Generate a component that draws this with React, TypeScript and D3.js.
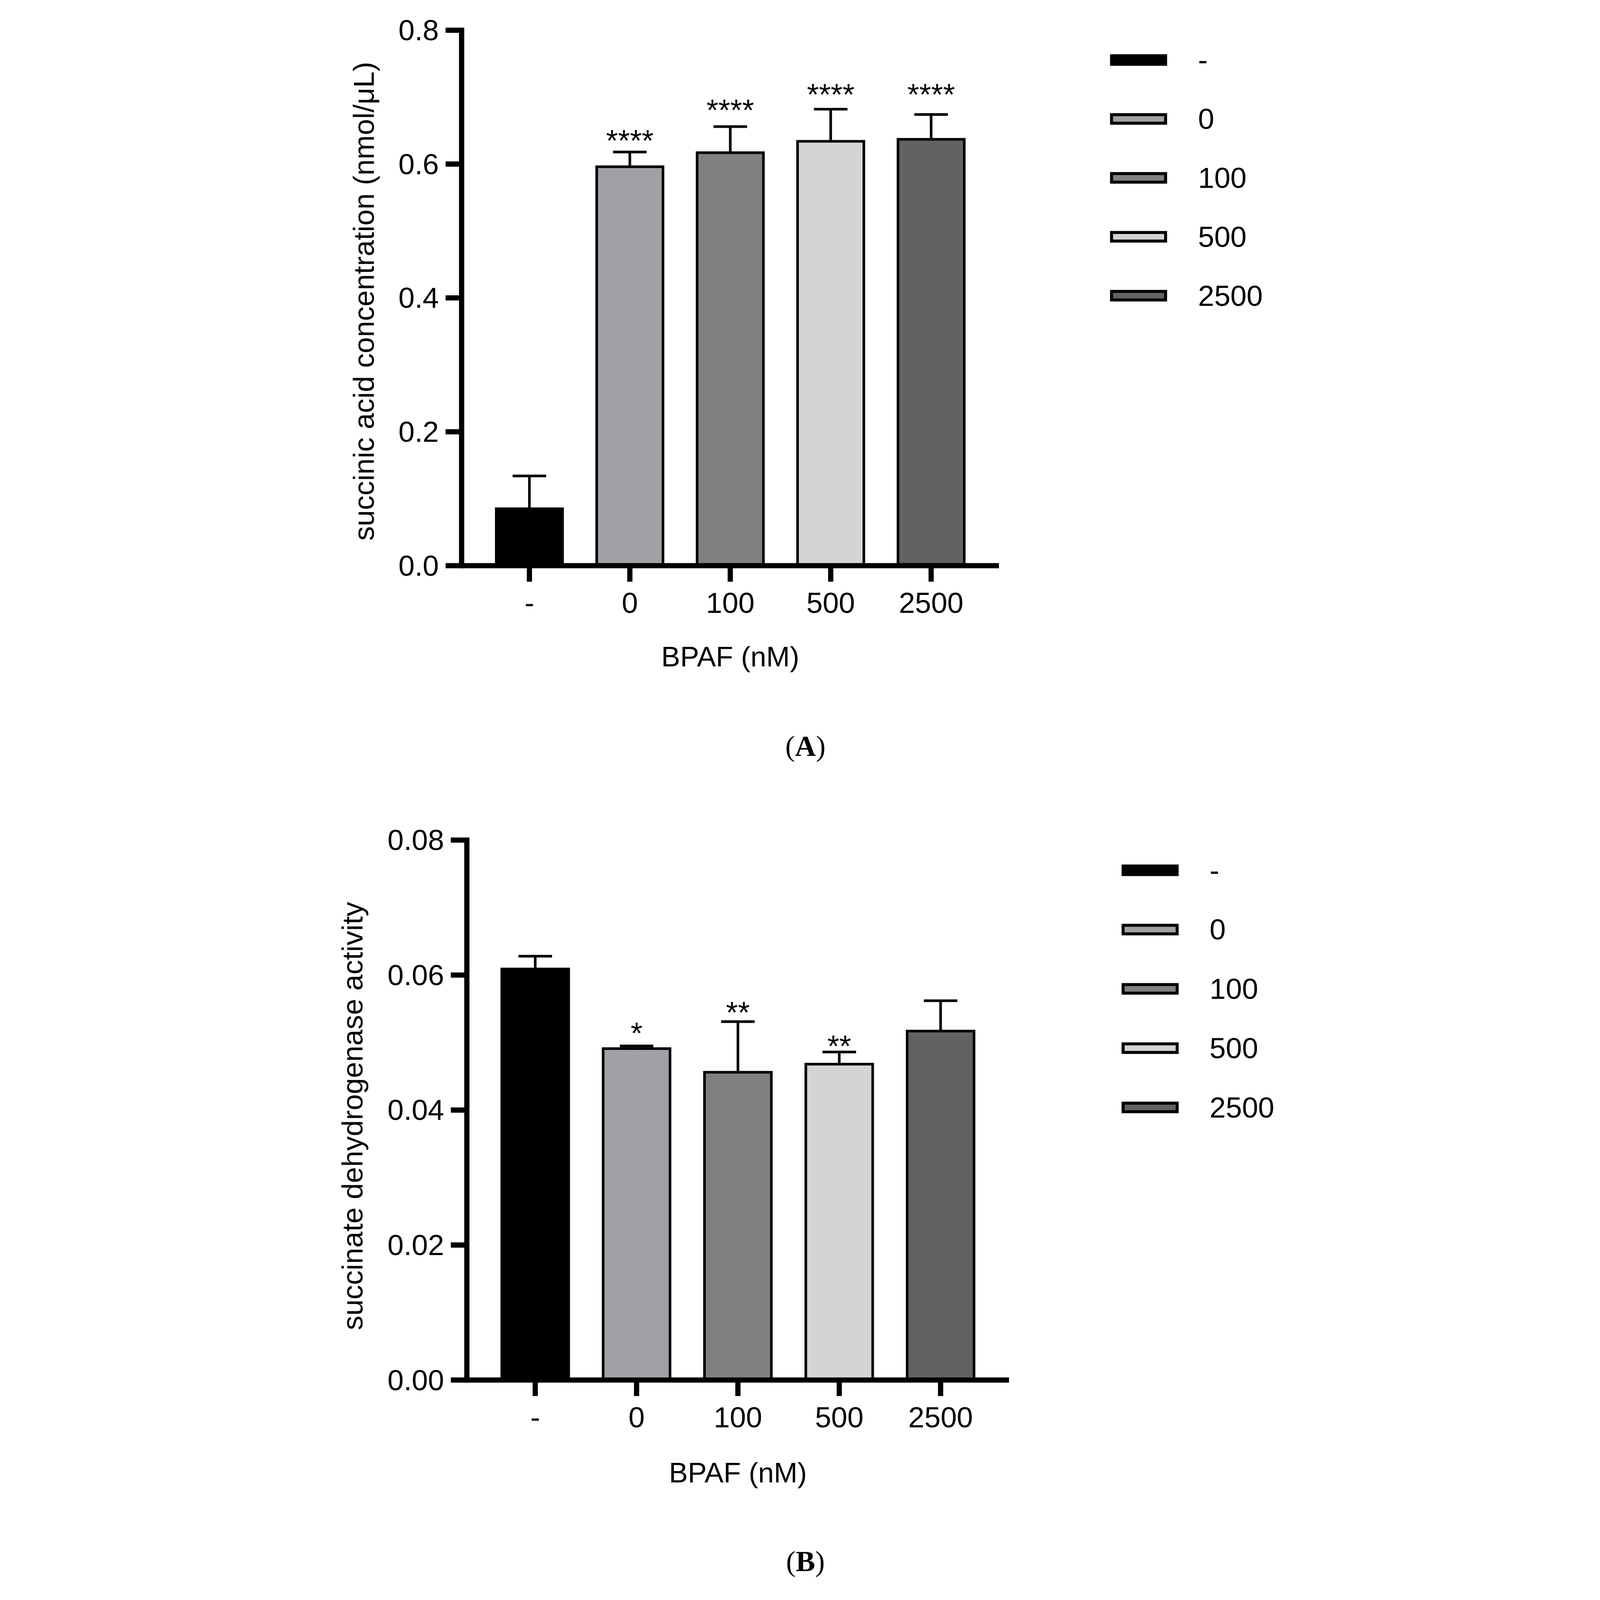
import React, {useEffect, useRef} from "react";
import * as d3 from "d3";

// groups (BPAF dose, nM)
const groups = ["-", "0", "100", "500", "2500"];
const groupColors = ["#000000", "#a1a0a5", "#808080", "#d4d4d4", "#626262"];

// panel A: succinic acid concentration
const meansA = [0.085, 0.596, 0.617, 0.634, 0.637];
const sdA = [0.049, 0.022, 0.039, 0.048, 0.037];
const starsA = ["", "****", "****", "****", "****"];
const starLevelA = [0, 0.619, 0.665, 0.688, 0.688];
const ticksA = [0, 0.2, 0.4, 0.6, 0.8];

// panel B: succinate dehydrogenase activity
const meansB = [0.0609, 0.0491, 0.0456, 0.0468, 0.0517];
const sdB = [0.0019, 0.0004, 0.0075, 0.0018, 0.0045];
const starsB = ["", "*", "**", "**", ""];
const starLevelB = [0, 0.0498, 0.0529, 0.0479, 0];
const ticksB = [0, 0.02, 0.04, 0.06, 0.08];

const W = 4291;
const H = 4253;
const SANS = "Liberation Sans, Arial, sans-serif";
const SERIF = "Liberation Serif, Times New Roman, serif";
const FS = 78;

interface PanelCfg {
	means: number[];
	sd: number[];
	stars: string[];
	starLevel: number[];
	ticks: number[];
	fmt: string;
	yLabel: string;
	tag: string;
	axisX: number;
	xEnd: number;
	y0: number;
	yTop: number;
	yLabelX: number;
	yLabelY: number;
	titleDy: number;
	legendX: number;
	legendY: number;
	legendStep: number;
	tagY: number;
}

function drawPanel(svg: d3.Selection<SVGSVGElement, unknown, null, undefined>, c: PanelCfg) {
	const g = svg.append("g");

	const x = d3
		.scaleBand<string>()
		.domain(groups)
		.range([c.axisX, c.xEnd])
		.paddingInner(0.34)
		.paddingOuter(0.345);

	const y = d3
		.scaleLinear()
		.domain([0, c.ticks[c.ticks.length - 1]])
		.range([c.y0, c.yTop]);

	const bw = x.bandwidth();
	const cx = (d: string) => (x(d) || 0) + bw / 2;

	// error bars (upper only)
	const err = g.append("g").attr("stroke", "#000").attr("stroke-width", 7);
	groups.forEach((d, i) => {
		const top = y(c.means[i] + c.sd[i]);
		err.append("line").attr("x1", cx(d)).attr("x2", cx(d)).attr("y1", y(c.means[i])).attr("y2", top);
		err
			.append("line")
			.attr("x1", cx(d) - 45)
			.attr("x2", cx(d) + 45)
			.attr("y1", top)
			.attr("y2", top);
	});

	// bars
	g.selectAll(".bar")
		.data(groups)
		.enter()
		.append("rect")
		.attr("x", (d) => x(d) || 0)
		.attr("y", (_, i) => y(c.means[i]))
		.attr("width", bw)
		.attr("height", (_, i) => c.y0 - y(c.means[i]))
		.attr("fill", (_, i) => groupColors[i])
		.attr("stroke", "#000")
		.attr("stroke-width", 7);

	// significance stars
	groups.forEach((d, i) => {
		if (!c.stars[i]) return;
		g.append("text")
			.attr("x", cx(d))
			.attr("y", y(c.starLevel[i]))
			.attr("text-anchor", "middle")
			.style("font-family", SANS)
			.style("font-size", "82px")
			.text(c.stars[i]);
	});

	// axes
	const axis = g.append("g").attr("stroke", "#000").attr("stroke-width", 14);
	axis.append("line").attr("x1", c.axisX).attr("x2", c.axisX).attr("y1", c.yTop - 7).attr("y2", c.y0 + 7);
	axis.append("line").attr("x1", c.axisX).attr("x2", c.xEnd).attr("y1", c.y0).attr("y2", c.y0);
	c.ticks.forEach((t) => {
		axis.append("line").attr("x1", c.axisX - 43).attr("x2", c.axisX).attr("y1", y(t)).attr("y2", y(t));
	});
	groups.forEach((d) => {
		axis.append("line").attr("x1", cx(d)).attr("x2", cx(d)).attr("y1", c.y0).attr("y2", c.y0 + 43);
	});

	const txt = g.append("g").style("font-family", SANS).style("font-size", `${FS}px`).attr("fill", "#000");
	const fmt = d3.format(c.fmt);
	c.ticks.forEach((t) => {
		txt.append("text").attr("x", c.axisX - 61).attr("y", y(t) + 27).attr("text-anchor", "end").text(fmt(t));
	});
	groups.forEach((d) => {
		txt.append("text").attr("x", cx(d)).attr("y", c.y0 + 127).attr("text-anchor", "middle").text(d);
	});

	txt.append("text")
		.attr("x", (c.axisX + c.xEnd) / 2)
		.attr("y", c.y0 + c.titleDy)
		.attr("text-anchor", "middle")
		.style("font-size", "76px")
		.text("BPAF (nM)");

	txt.append("text")
		.attr("transform", `translate(${c.yLabelX}, ${c.yLabelY}) rotate(-90)`)
		.attr("text-anchor", "middle")
		.text(c.yLabel);

	// legend
	groups.forEach((d, i) => {
		const ly = c.legendY + i * c.legendStep;
		g.append("rect")
			.attr("x", c.legendX + 4)
			.attr("y", ly - 11.5)
			.attr("width", 145)
			.attr("height", 23)
			.attr("fill", groupColors[i])
			.attr("stroke", "#000")
			.attr("stroke-width", 8);
		txt.append("text").attr("x", c.legendX + 236).attr("y", ly + 27).text(d);
	});

	// panel tag
	const tag = g
		.append("text")
		.attr("x", 2160)
		.attr("y", c.tagY)
		.attr("text-anchor", "middle")
		.style("font-family", SERIF)
		.style("font-size", `${FS}px`);
	tag.append("tspan").text("(");
	tag.append("tspan").style("font-weight", "bold").text(c.tag);
	tag.append("tspan").text(")");
}

const App: React.FC = () => {
	const svgRef = useRef<SVGSVGElement>(null);

	useEffect(() => {
		document.body.style.margin = "0";
		document.body.style.overflow = "hidden";

		const svg = d3.select(svgRef.current as SVGSVGElement);
		svg.selectAll("*").remove();

		svg.append("rect").attr("width", W).attr("height", H).attr("fill", "#fff");

		drawPanel(svg, {
			means: meansA,
			sd: sdA,
			stars: starsA,
			starLevel: starLevelA,
			ticks: ticksA,
			fmt: ".1f",
			yLabel: "succinic acid concentration (nmol/μL)",
			tag: "A",
			axisX: 1238,
			xEnd: 2679,
			y0: 1517,
			yTop: 81,
			yLabelX: 1003,
			yLabelY: 808,
			titleDy: 270,
			legendX: 2977,
			legendY: 161,
			legendStep: 158,
			tagY: 2027,
		});

		drawPanel(svg, {
			means: meansB,
			sd: sdB,
			stars: starsB,
			starLevel: starLevelB,
			ticks: ticksB,
			fmt: ".2f",
			yLabel: "succinate dehydrogenase activity",
			tag: "B",
			axisX: 1252,
			xEnd: 2706,
			y0: 3701,
			yTop: 2253,
			yLabelX: 972,
			yLabelY: 2993,
			titleDy: 275,
			legendX: 3008,
			legendY: 2334,
			legendStep: 159,
			tagY: 4213,
		});
	}, []);

	return (
		<svg
			ref={svgRef}
			viewBox={`0 0 ${W} ${H}`}
			preserveAspectRatio="xMinYMin meet"
			style={{display: "block", position: "absolute", left: 0, top: 0, width: "100vw", height: "100vh"}}
		/>
	);
};

export default App;
